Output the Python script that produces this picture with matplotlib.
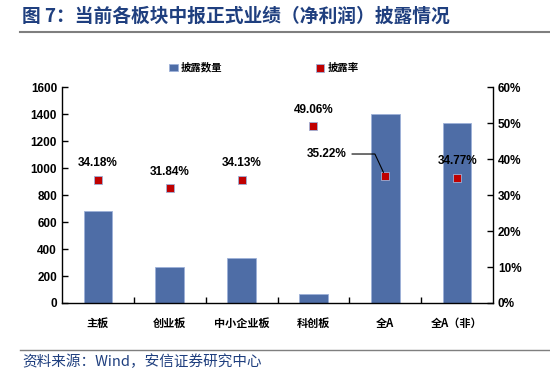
import matplotlib.pyplot as plt
import numpy as np

plt.rcParams['font.family'] = ['Noto Sans CJK SC', 'DejaVu Sans']

categories = ['主板', '创业板', '中小企业板', '科创板', '全A', '全A（非）']
counts = [680, 265, 330, 70, 1400, 1335]
rates = [34.18, 31.84, 34.13, 49.06, 35.22, 34.77]

navy = '#1F3F7F'
bar_color = '#4E6DA6'
red = '#C00000'

fig = plt.figure(figsize=(5.5, 3.72), dpi=100)
ax = fig.add_axes([0.1127, 0.1855, 0.7837, 0.5805])
ax2 = ax.twinx()

x = np.arange(len(categories))
ax.bar(x, counts, width=0.4, color=bar_color, edgecolor='#9DB1D8', linewidth=0.6,
       label='披露数量', zorder=2)
ax2.scatter(x, rates, marker='s', s=30, color=red, edgecolors='#9DB1D8',
            linewidths=0.6, label='披露率', zorder=3)

ax.set_xlim(-0.5, len(categories) - 0.5)
ax.set_ylim(0, 1600)
ax.set_yticks(range(0, 1601, 200))
ax2.set_ylim(0, 60)
ax2.set_yticks(range(0, 61, 10))
ax2.set_yticklabels([f'{v}%' for v in range(0, 61, 10)])

ax.set_xticks(x)
ax.set_xticklabels(categories, fontsize=8, fontweight='bold')
ax.set_xticks(np.arange(0.5, len(categories) - 1, 1), minor=True)
ax.tick_params(axis='x', which='major', length=0, pad=10)
ax.tick_params(axis='x', which='minor', direction='in', length=4, width=1)
ax.tick_params(axis='y', direction='in', length=4, width=1, labelsize=8.5)
ax2.tick_params(axis='y', direction='in', length=4, width=1, labelsize=8.5)
for lab in ax.get_yticklabels() + ax2.get_yticklabels():
    lab.set_fontweight('bold')
    lab.set_family('Liberation Sans')

for a in (ax, ax2):
    a.spines['top'].set_visible(False)
    for s in ('left', 'right', 'bottom'):
        a.spines[s].set_linewidth(1)
ax2.spines['left'].set_visible(False)
ax.spines['right'].set_visible(False)
ax2.spines['bottom'].set_visible(False)

# data labels
for i, r in enumerate(rates):
    if i == 4:
        ax2.annotate(f'{r:.2f}%', xy=(x[i], r), xytext=(-28, 16), textcoords='offset points',
                     ha='right', va='center', fontsize=8.5, fontweight='bold',
                     family='Liberation Sans',
                     arrowprops=dict(arrowstyle='-', color='black', lw=0.8,
                                     shrinkA=2, shrinkB=3,
                                     connectionstyle='angle,angleA=0,angleB=115,rad=0'))
    else:
        ax2.annotate(f'{r:.2f}%', xy=(x[i], r), xytext=(0, 12), textcoords='offset points',
                     ha='center', va='center', fontsize=8.5, fontweight='bold',
                     family='Liberation Sans')

h1, l1 = ax.get_legend_handles_labels()
h2, l2 = ax2.get_legend_handles_labels()
fig.legend(h1 + h2, l1 + l2, loc='center', bbox_to_anchor=(0.48, 0.818), ncol=2,
           frameon=False, columnspacing=9, handlelength=0.8,
           handletextpad=0.3, prop={'weight': 'bold', 'size': 7.5})

# title and source
fig.text(0.04, 0.955, '图 7：当前各板块中报正式业绩（净利润）披露情况', color=navy,
         fontsize=13.5, fontweight='bold', va='center', ha='left')
fig.add_artist(plt.Line2D([0.036, 1.0], [0.913, 0.913], color='#7F7F7F', lw=1.5,
                          transform=fig.transFigure))
fig.add_artist(plt.Line2D([0.036, 1.0], [0.06, 0.06], color='#7F7F7F', lw=1,
                          transform=fig.transFigure))
fig.text(0.04, 0.027, '资料来源：Wind，安信证券研究中心', color=navy, fontsize=10.5,
         style='italic', va='center', ha='left')

fig.savefig('out.png', dpi=100)
